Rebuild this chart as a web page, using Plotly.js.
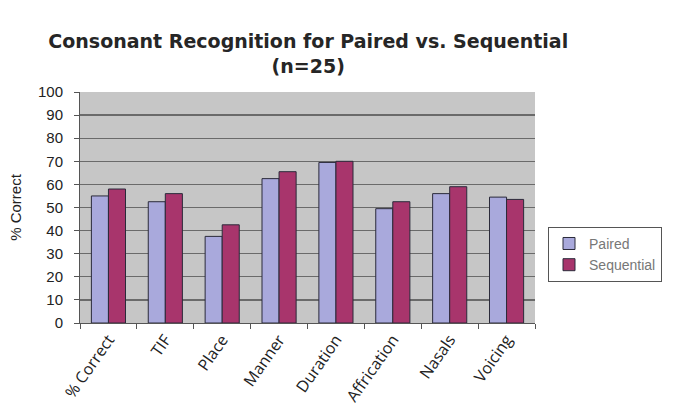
<!DOCTYPE html>
<html><head><meta charset="utf-8">
<script src="https://cdn.plot.ly/plotly-3.0.1.min.js"></script>
<style>html,body{margin:0;padding:0;background:#fff;}#chart{width:676px;height:409px;}</style>
</head><body><div id="chart"></div>
<script>
const categories = ["% Correct", "TIF", "Place", "Manner", "Duration", "Affrication", "Nasals", "Voicing"];
const paired = [55, 52.5, 37.5, 62.5, 69.5, 49.5, 56, 54.5];
const sequential = [58, 56, 42.5, 65.5, 70, 52.5, 59, 53.5];
const yTicks = [0, 10, 20, 30, 40, 50, 60, 70, 80, 90, 100];

const lineStyle = {color: '#2a2a3a', width: 1};
const data = [
  {type: 'bar', name: 'Paired', x: categories, y: paired,
   marker: {color: '#a9a9dc', line: lineStyle}},
  {type: 'bar', name: 'Sequential', x: categories, y: sequential,
   marker: {color: '#a8356c', line: lineStyle}}
];
const layout = {
  width: 676, height: 409,
  margin: {l: 80, r: 141, t: 92, b: 86},
  paper_bgcolor: '#ffffff', plot_bgcolor: '#c6c6c6',
  font: {family: 'Open Sans, DejaVu Sans, sans-serif', color: '#222'},
  title: {text: '<b>Consonant Recognition for Paired vs. Sequential<br>(n=25)</b>',
    x: 0.456, xanchor: 'center', y: 0.882, yanchor: 'top',
    font: {family: 'DejaVu Sans, sans-serif', size: 19, color: '#262626'}},
  barmode: 'group', bargap: 0.4, bargroupgap: 0,
  xaxis: {type: 'category', tickangle: -55, automargin: false,
    ticks: 'outside', tickson: 'boundaries', ticklen: 5, tickcolor: '#555',
    showline: true, linecolor: '#555', linewidth: 1,
    tickfont: {size: 16, color: '#222'}},
  yaxis: {range: [0, 100], tickvals: yTicks, ticks: 'outside', ticklen: 5, tickcolor: '#555',
    showline: true, linecolor: '#555', linewidth: 1, ticklabelstandoff: 8,
    gridcolor: '#6a6a6a', gridwidth: 1.3, zeroline: false,
    tickfont: {family: 'Liberation Sans, Arial, sans-serif', size: 15, color: '#222'},
    title: {text: '% Correct', standoff: 12, font: {family: 'Liberation Sans, Arial, sans-serif', size: 15, color: '#222'}}},
  legend: {x: 1.0286, y: 0.297, xanchor: 'left', yanchor: 'middle',
    bordercolor: '#555', borderwidth: 1, bgcolor: '#fff',
    font: {family: 'Liberation Sans, Arial, sans-serif', size: 14, color: '#777'}}
};
Plotly.newPlot('chart', data, layout, {displayModeBar: false, staticPlot: true});
</script></body></html>
